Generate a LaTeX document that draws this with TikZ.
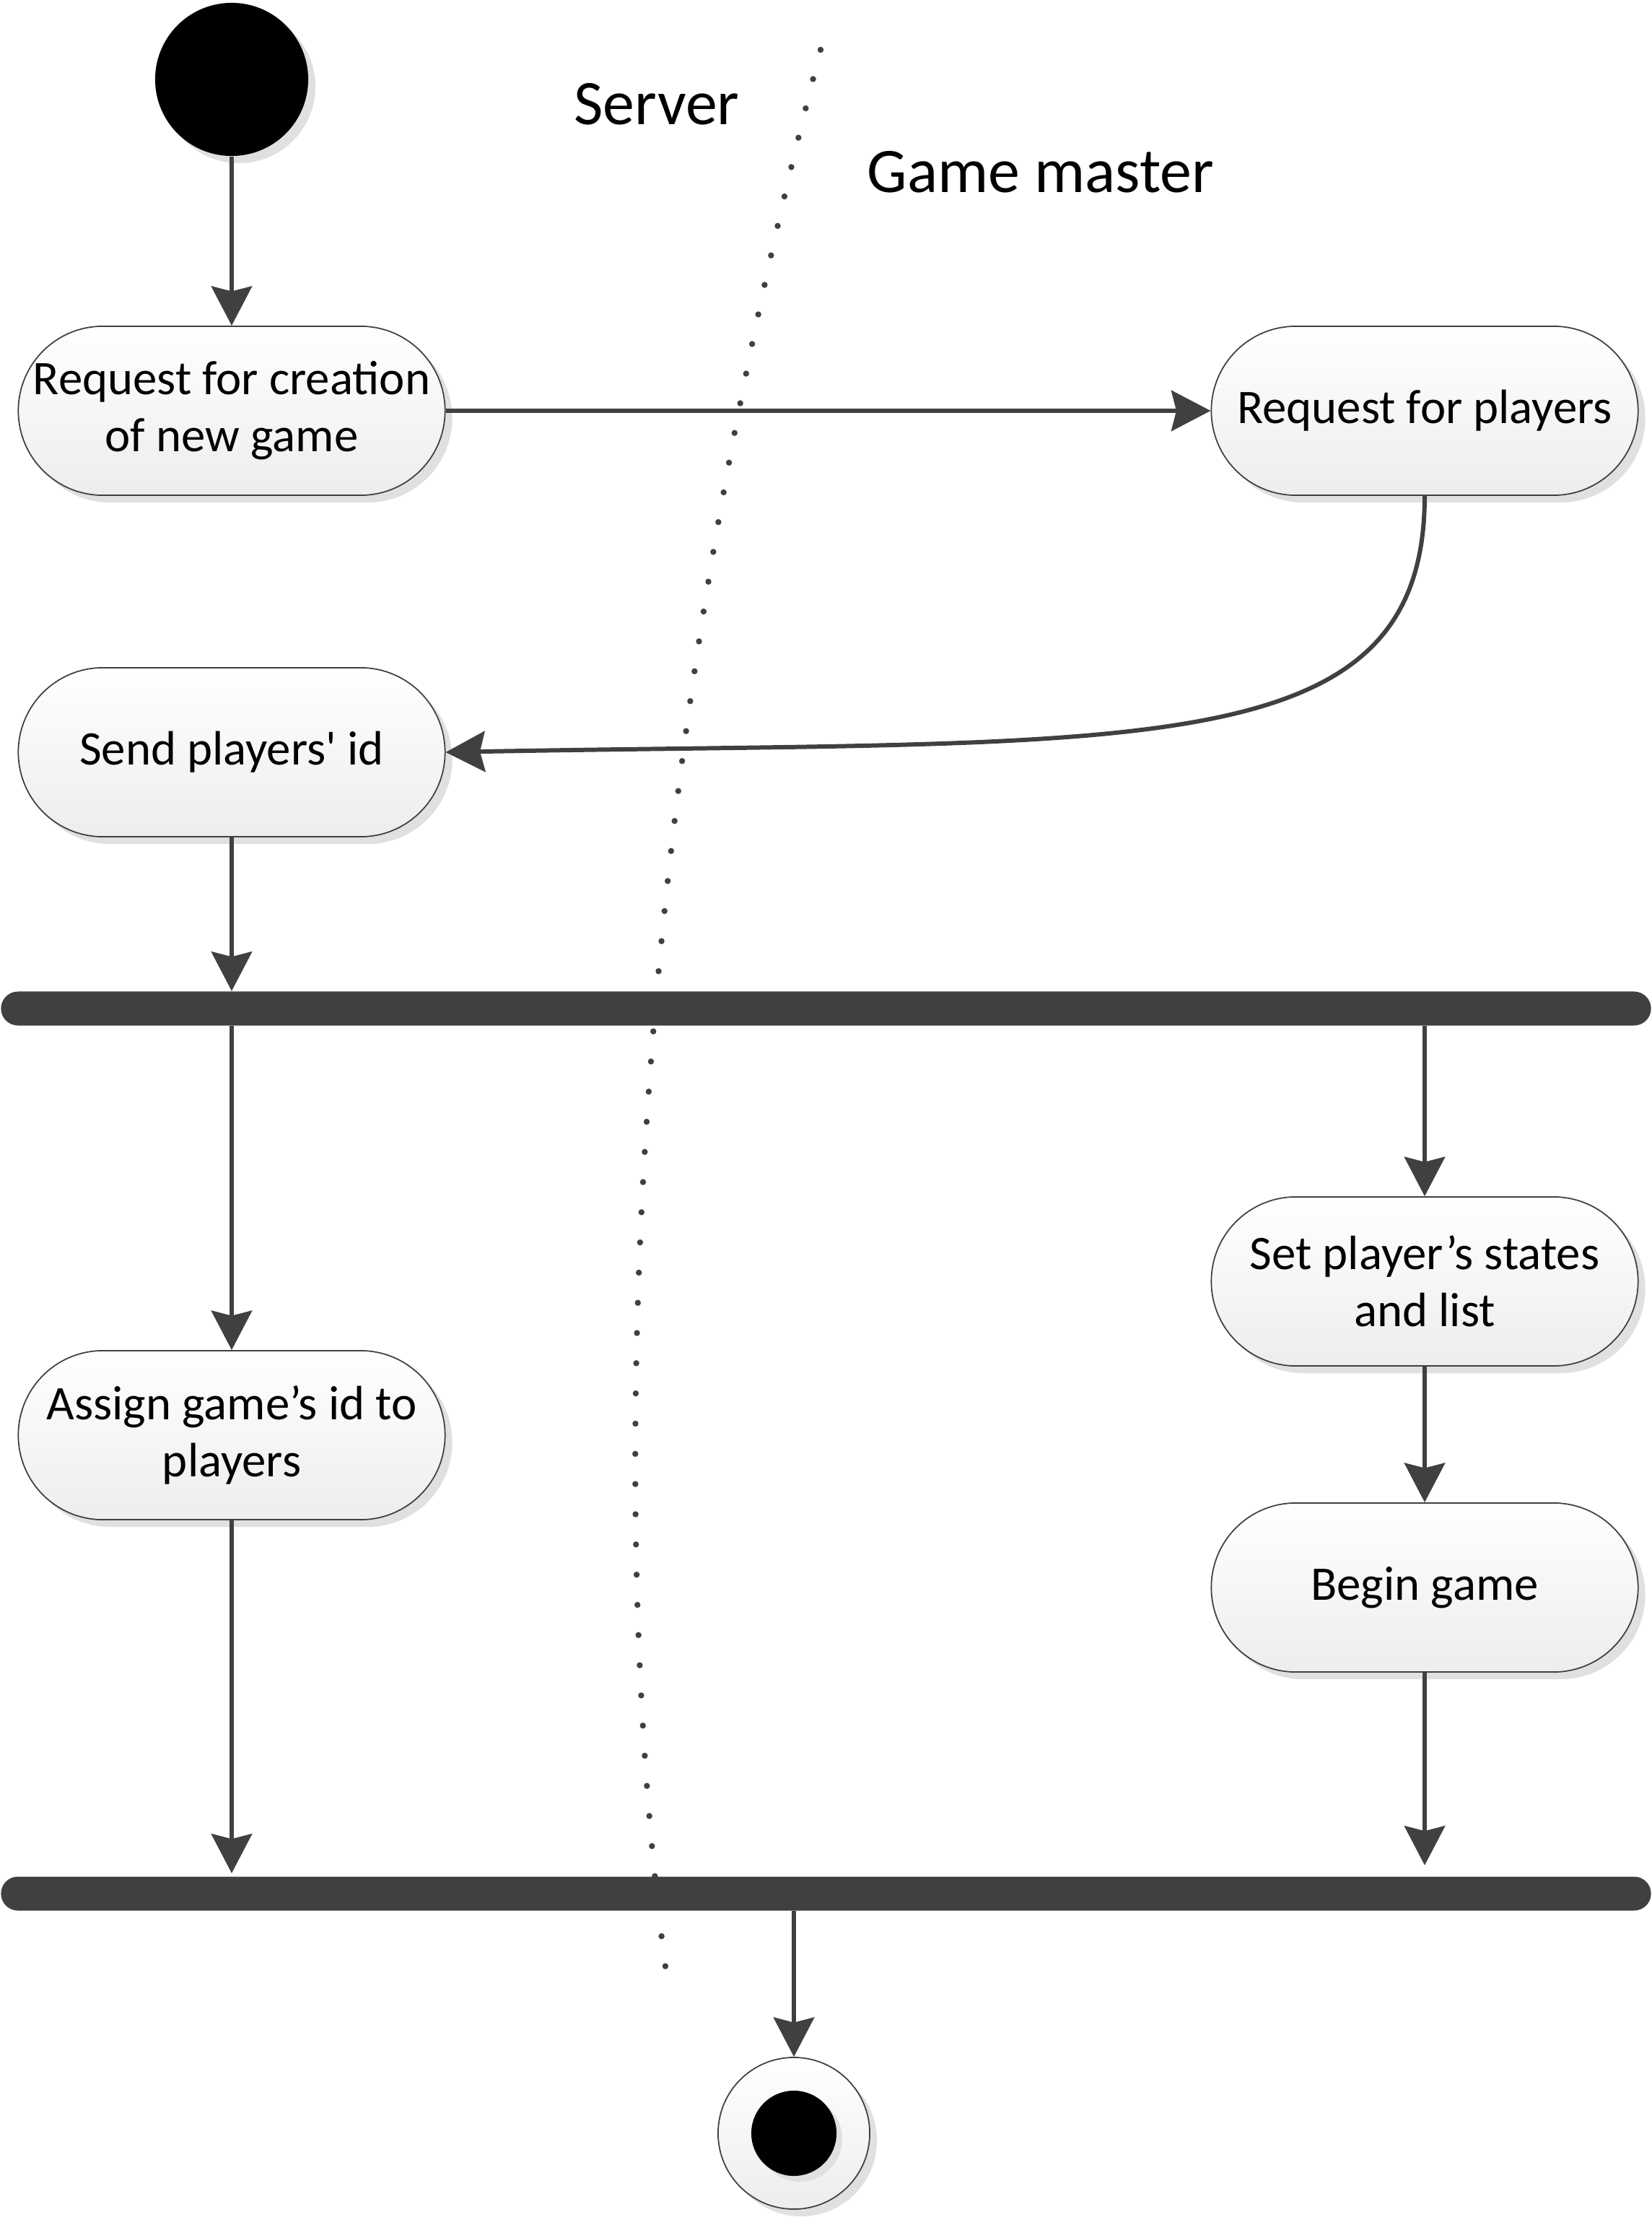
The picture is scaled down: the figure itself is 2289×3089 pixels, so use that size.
\documentclass[tikz,border=0pt]{standalone}
\usepackage{fontspec}
\setmainfont{Carlito}
\newfontfamily\carl{Carlito}
\usetikzlibrary{arrows.meta,shadows,calc}
\definecolor{lc}{HTML}{404040}
\begin{document}
\begin{tikzpicture}[x=0.01cm,y=-0.01cm,
  act/.style={draw=lc, line width=0.5pt, rectangle, rounded corners=1.17cm,
    minimum width=5.91cm, minimum height=2.34cm, inner sep=0pt,
    top color=white, bottom color=black!7, align=center,
    font=\carl\fontsize{19}{22.5}\selectfont,
    drop shadow={shadow xshift=0.1cm, shadow yshift=-0.1cm, fill=black!12, opacity=1}},
  bar/.style={rectangle, fill=lc, minimum width=22.85cm, minimum height=0.47cm,
    rounded corners=0.235cm, inner sep=0pt},
  arr/.style={draw=lc, line width=1.7pt, -{Stealth[length=15.5pt, width=16pt, inset=2pt]}},
  lane/.style={font=\carl\fontsize{25}{30}\selectfont}
]
\useasboundingbox (0,0) rectangle (2289,3089);

% swimlane separator
\draw[lc, line width=2.4pt, line cap=round, dash pattern=on 0pt off 11.9pt]
  (1137,69) .. controls (847,1182) and (847,2167) .. (923,2732);

\node[lane] (server) at (910,144) {Server};
\node[lane] (gm) at (1442,238) {Game master};

% start
\node[circle, fill=black, minimum size=2.12cm, inner sep=0pt,
  drop shadow={shadow xshift=0.1cm, shadow yshift=-0.1cm, fill=black!12, opacity=1}] (start) at (321,110) {};

\node[act] (n1) at (321,569) {Request for creation\\of new game};
\node[act] (n2) at (1974,569) {Request for players};
\node[act] (n3) at (321,1042) {Send players' id};
\node[bar] (bar1) at (1144.5,1397) {};
\node[act] (n4) at (1974,1775) {Set player’s states\\and list};
\node[act] (n5) at (321,1988) {Assign game’s id to\\players};
\node[act] (n6) at (1974,2199) {Begin game};
\node[bar] (bar2) at (1144.5,2623) {};

% end
\node[circle, draw=lc, line width=0.5pt, minimum size=2.1cm, inner sep=0pt,
  top color=white, bottom color=black!7,
  drop shadow={shadow xshift=0.1cm, shadow yshift=-0.1cm, fill=black!12, opacity=1}] (endo) at (1100,2955) {};
\node[circle, fill=black, minimum size=1.18cm, inner sep=0pt,
  drop shadow={shadow xshift=0.08cm, shadow yshift=-0.08cm, fill=black!12, opacity=1}] (endi) at (1100,2955) {};

% connectors
\draw[arr] (start.south) -- (n1.north);
\draw[arr] (n1.east) -- (n2.west);
\draw[arr] (n2.south) .. controls (1974,1064) and (1576,1024) .. (n3.east);
\draw[arr] (n3.south) -- (n3.south |- bar1.north);
\draw[arr] (n3.south |- bar1.south) -- (n5.north);
\draw[arr] (n4.north |- bar1.south) -- (n4.north);
\draw[arr] (n4.south) -- (n6.north);
\draw[arr] (n5.south) -- ($(n5.south |- bar2.north)+(0,-4)$);
\draw[arr] (n6.south) -- ($(n6.south |- bar2.north)+(0,-15)$);
\draw[arr] (endo.north |- bar2.south) -- (endo.north);
\end{tikzpicture}
\end{document}
